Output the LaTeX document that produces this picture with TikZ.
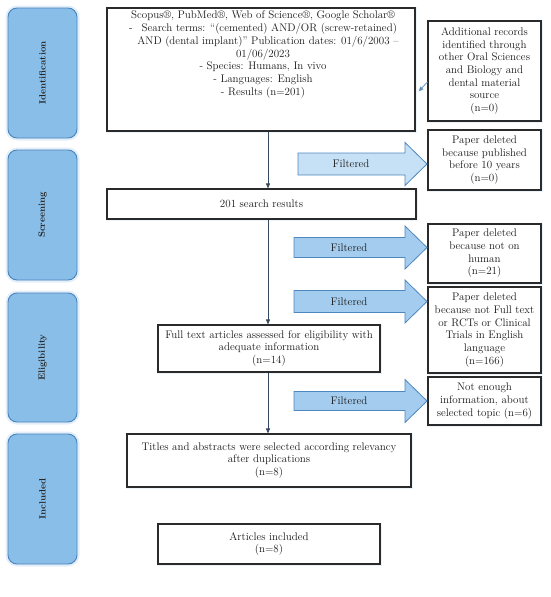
\documentclass[tikz,border=0pt]{standalone}
\usetikzlibrary{arrows.meta,calc}
\definecolor{stagefill}{HTML}{89BEE8}
\definecolor{stageline}{HTML}{4A83BB}
\definecolor{halo}{HTML}{E2EFFA}
\definecolor{arrfill}{HTML}{A3CCEE}
\definecolor{arrfilllight}{HTML}{C6E0F5}
\definecolor{arrline}{HTML}{4E86BE}
\definecolor{boxline}{HTML}{2A2A2A}
\definecolor{connline}{HTML}{34495F}
\begin{document}
\begin{tikzpicture}[x=1pt,y=-1pt,
  stage/.style={draw=stageline, line width=0.9pt, fill=stagefill, rounded corners=9pt,
    preaction={draw=halo, line width=5pt}, rotate=90,
    font=\fontsize{9.2}{11}\selectfont\bfseries, text=black!85},
  box/.style={draw=boxline, line width=1.1pt, fill=white, align=center,
    font=\fontsize{11}{12.7}\selectfont, inner sep=0pt, text=black!90,
    preaction={draw=halo!70, line width=3pt}},
  txt/.style={align=center, font=\fontsize{11}{12.7}\selectfont, inner sep=0pt, text=black!90},
  filt/.style={draw=arrline, line width=0.8pt, line join=miter},
  conn/.style={draw=connline, line width=0.8pt, -{Triangle[length=5pt,width=4pt]}},
]
\useasboundingbox (0,0) rectangle (550,597);

% stage boxes
\node[stage, minimum width=130pt, minimum height=69pt] (ident)  at (42.5,73)   {Identification};
\node[stage, minimum width=130pt, minimum height=69pt] (screen) at (42.5,215)  {Screening};
\node[stage, minimum width=129pt, minimum height=69pt] (elig)   at (42.5,357.5){Eligibility};
\node[stage, minimum width=130pt, minimum height=69pt] (incl)   at (42.5,499)  {Included};

% main boxes
\node[box, minimum width=308pt, minimum height=123pt] (search) at (261,69.5) {};
\node[txt, anchor=north] (searchtxt) at (263,11) {Scopus\textregistered, PubMed\textregistered, Web of Science\textregistered, Google Scholar\textregistered\\
-\hspace{9pt}Search terms: ``(cemented) AND/OR (screw-retained)\\
\hspace*{10pt}AND (dental implant)'' Publication dates: 01/6/2003 --\\
01/06/2023\\
- Species: Humans, In vivo\\
- Languages: English\\
- Results (n=201)};

\node[box, minimum width=113pt, minimum height=100pt] (extra) at (484.5,71) {Additional records\\ identified through\\ other Oral Sciences\\ and Biology and\\ dental material\\ source\\ (n=0)};

\node[box, minimum width=113pt, minimum height=60pt] (del1) at (484.5,160) {Paper deleted\\ because published\\ before 10 years\\ (n=0)};

\node[box, minimum width=309pt, minimum height=30pt] (res) at (261.5,204) {201 search results};

\node[box, minimum width=113pt, minimum height=59pt] (del2) at (484.5,253.5) {Paper deleted\\ because not on\\ human\\ (n=21)};

\node[box, minimum width=113pt, minimum height=86pt] (del3) at (484.5,330) {Paper deleted\\ because not Full text\\ or RCTs or Clinical\\ Trials in English\\ language\\ (n=166)};

\node[box, minimum width=222pt, minimum height=47pt] (full) at (269,348.5) {Full text articles assessed for eligibility with\\ adequate information\\ (n=14)};

\node[box, minimum width=113pt, minimum height=48pt] (del4) at (484.5,401) {Not enough\\ information, about\\ selected topic (n=6)};

\node[box, minimum width=284pt, minimum height=53pt] (titles) at (269,460.5) {Titles and abstracts were selected according relevancy\\ after duplications\\ (n=8)};

\node[box, minimum width=222pt, minimum height=40pt] (articles) at (269,544) {Articles included\\ (n=8)};

% filtered block arrows
\newcommand{\filtarrow}[4]{% x0, y, bodyhalf, fill
  \path[filt, fill=#4] (#1,#2-#3) -- (405,#2-#3) -- (405,#2-21.5) -- (427,#2) -- (405,#2+21.5) -- (405,#2+#3) -- (#1,#2+#3) -- cycle;}
\filtarrow{298}{164}{11}{arrfilllight}
\node[txt] (f1) at (351,164) {Filtered};
\filtarrow{294}{247.5}{10}{arrfill}
\node[txt] (f2) at (349,247.5) {Filtered};
\filtarrow{294}{301.5}{11}{arrfill}
\node[txt] (f3) at (349,301.5) {Filtered};
\filtarrow{294}{401}{9.5}{arrfill}
\node[txt] (f4) at (349,401) {Filtered};

% connectors
\draw[conn] (search.south -| 268,0) -- (res.north -| 268,0);
\draw[conn] (res.south -| 268,0) -- (full.north -| 268,0);
\draw[conn] (full.south -| 268,0) -- (titles.north -| 268,0);
\draw[draw=arrline!80, line width=0.9pt, -{Triangle[length=5pt,width=4pt,fill=connline]}]
  ($(extra.west)+(0,11)$) -- ($(search.east)+(3,22)$);
\end{tikzpicture}
\end{document}
